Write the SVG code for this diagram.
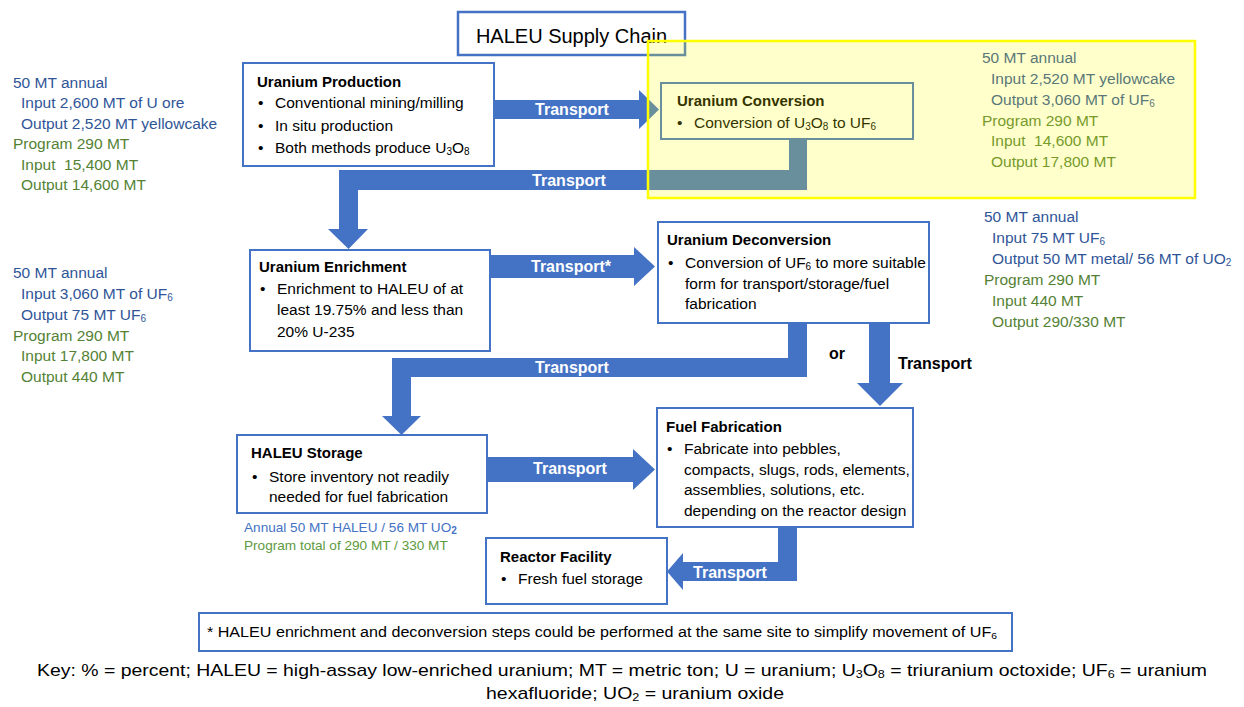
<svg xmlns="http://www.w3.org/2000/svg" width="1244" height="707" viewBox="0 0 1244 707">
<style>
text{font-family:"Liberation Sans",Arial,sans-serif;white-space:pre}
.box{fill:#fff;stroke:#4472C4;stroke-width:2}
.arr{fill:#4472C4;stroke:none}
.h{font-size:15px;font-weight:bold;fill:#000}
.b{font-size:15.5px;fill:#000}
.at{font-size:16px;font-weight:bold;fill:#fff;text-anchor:middle}
.bt{font-size:16px;font-weight:bold;fill:#000}
.sb{font-size:15.5px;fill:#2F5597}
.sg{font-size:15.5px;fill:#548235}
.sub{font-size:10px}
</style>
<rect width="1244" height="707" fill="#fff"/>
<g id="connectors">
<polygon class="arr" points="494,100 639,100 639,90 659,109.5 639,129 639,119 494,119"/>
<polygon class="arr" points="789,139 807,139 807,190 358,190 358,229 368,229 348.5,249 328,229 339,229 339,170 789,170"/>
<polygon class="arr" points="490,255 634,255 634,247 655,266.5 634,286 634,278 490,278"/>
<polygon class="arr" points="788,323 807,323 807,377 411,377 411,416 421,416 401.5,435 382,416 392,416 392,358 788,358"/>
<polygon class="arr" points="869,323 890,323 890,383 903,383 880,406 857,383 869,383"/>
<polygon class="arr" points="487,457 633,457 633,449 655,469.5 633,490 633,482 487,482"/>
<polygon class="arr" points="778,527 797,527 797,581 683,581 683,590 667,571.5 683,553 683,562 778,562"/>
<text class="at" x="572" y="115">Transport</text>
<text class="at" x="569" y="186">Transport</text>
<text class="at" x="571" y="272">Transport*</text>
<text class="at" x="572" y="373">Transport</text>
<text class="at" x="570" y="474">Transport</text>
<text class="at" x="730" y="578">Transport</text>
<text class="bt" x="829" y="359">or</text>
<text class="bt" x="898" y="369">Transport</text>
</g>
<g id="title">
<rect x="458" y="12" width="227" height="43" fill="#fff" stroke="#4472C4" stroke-width="2.5"/>
<text x="571.5" y="43" font-size="20" text-anchor="middle" fill="#000">HALEU Supply Chain</text>
</g>
<g id="uranium-production">
<rect class="box" x="243" y="63" width="251" height="103"/>
<text class="h" x="257" y="87">Uranium Production</text>
<text class="b" x="258" y="108">•</text><text class="b" x="275" y="108">Conventional mining/milling</text>
<text class="b" x="258" y="130.5">•</text><text class="b" x="275" y="130.5">In situ production</text>
<text class="b" x="258" y="153">•</text><text class="b" x="275" y="153">Both methods produce U<tspan class="sub" dy="2">3</tspan><tspan dy="-2">O</tspan><tspan class="sub" dy="2">8</tspan></text>
</g>
<g id="uranium-conversion">
<rect class="box" x="661" y="83" width="252" height="56"/>
<text class="h" x="677" y="106" font-size="14.5">Uranium Conversion</text>
<text class="b" x="677" y="128">•</text><text class="b" x="694" y="128">Conversion of U<tspan class="sub" dy="2">3</tspan><tspan dy="-2">O</tspan><tspan class="sub" dy="2">8</tspan><tspan dy="-2"> to UF</tspan><tspan class="sub" dy="2">6</tspan></text>
</g>
<g id="uranium-enrichment">
<rect class="box" x="250" y="250" width="240" height="101"/>
<text class="h" x="259" y="272">Uranium Enrichment</text>
<text class="b" x="260" y="294">•</text><text class="b" x="277" y="294">Enrichment to HALEU of at</text>
<text class="b" x="277" y="315">least 19.75% and less than</text>
<text class="b" x="277" y="337">20% U-235</text>
</g>
<g id="uranium-deconversion">
<rect class="box" x="658" y="222" width="271" height="101"/>
<text class="h" x="667" y="245">Uranium Deconversion</text>
<text class="b" x="668" y="268">•</text><text class="b" x="685" y="268">Conversion of UF<tspan class="sub" dy="2">6</tspan><tspan dy="-2"> to more suitable</tspan></text>
<text class="b" x="685" y="289">form for transport/storage/fuel</text>
<text class="b" x="685" y="309">fabrication</text>
</g>
<g id="haleu-storage">
<rect class="box" x="237" y="435" width="250" height="78"/>
<text class="h" x="251" y="458">HALEU Storage</text>
<text class="b" x="252" y="482">•</text><text class="b" x="269" y="482">Store inventory not readily</text>
<text class="b" x="269" y="502">needed for fuel fabrication</text>
</g>
<g id="fuel-fabrication">
<rect class="box" x="657" y="408" width="256" height="119"/>
<text class="h" x="666" y="432">Fuel Fabrication</text>
<text class="b" x="667" y="454">•</text><text class="b" x="684" y="454">Fabricate into pebbles,</text>
<text class="b" x="684" y="475">compacts, slugs, rods, elements,</text>
<text class="b" x="684" y="495">assemblies, solutions, etc.</text>
<text class="b" x="684" y="516">depending on the reactor design</text>
</g>
<g id="reactor-facility">
<rect class="box" x="486" y="538" width="181" height="66"/>
<text class="h" x="500" y="562">Reactor Facility</text>
<text class="b" x="501" y="584">•</text><text class="b" x="518" y="584">Fresh fuel storage</text>
</g>
<g id="notes-production">
<text class="sb" x="13" y="88">50 MT annual</text>
<text class="sb" x="21" y="108">Input 2,600 MT of U ore</text>
<text class="sb" x="21" y="129">Output 2,520 MT yellowcake</text>
<text class="sg" x="13" y="149">Program 290 MT</text>
<text class="sg" x="21" y="170">Input  15,400 MT</text>
<text class="sg" x="21" y="190">Output 14,600 MT</text>
</g>
<g id="notes-enrichment">
<text class="sb" x="13" y="278">50 MT annual</text>
<text class="sb" x="21" y="299">Input 3,060 MT of UF<tspan class="sub" dy="2">6</tspan></text>
<text class="sb" x="21" y="320">Output 75 MT UF<tspan class="sub" dy="2">6</tspan></text>
<text class="sg" x="13" y="341">Program 290 MT</text>
<text class="sg" x="21" y="361">Input 17,800 MT</text>
<text class="sg" x="21" y="382">Output 440 MT</text>
</g>
<g id="notes-conversion">
<text class="sb" x="982" y="63">50 MT annual</text>
<text class="sb" x="991" y="84">Input 2,520 MT yellowcake</text>
<text class="sb" x="991" y="105">Output 3,060 MT of UF<tspan class="sub" dy="2">6</tspan></text>
<text class="sg" x="982" y="126">Program 290 MT</text>
<text class="sg" x="991" y="146">Input  14,600 MT</text>
<text class="sg" x="991" y="167">Output 17,800 MT</text>
</g>
<g id="notes-deconversion">
<text class="sb" x="984" y="222">50 MT annual</text>
<text class="sb" x="992" y="243">Input 75 MT UF<tspan class="sub" dy="2">6</tspan></text>
<text class="sb" x="992" y="264">Output 50 MT metal/ 56 MT of UO<tspan class="sub" dy="2">2</tspan></text>
<text class="sg" x="984" y="285">Program 290 MT</text>
<text class="sg" x="992" y="306">Input 440 MT</text>
<text class="sg" x="992" y="327">Output 290/330 MT</text>
</g>
<g id="notes-storage">
<text x="244" y="532" font-size="13.6" fill="#4472C4">Annual 50 MT HALEU / 56 MT UO<tspan font-size="10" font-weight="bold" dy="2">2</tspan></text>
<text x="244" y="550" font-size="13.6" fill="#5E9A3E">Program total of 290 MT / 330 MT</text>
</g>
<g id="footnote">
<rect x="199" y="613" width="813" height="38" fill="#fff" stroke="#4472C4" stroke-width="2"/>
<text x="207" y="637" font-size="14" fill="#000" textLength="790" lengthAdjust="spacingAndGlyphs">* HALEU enrichment and deconversion steps could be performed at the same site to simplify movement of UF<tspan font-size="9" dy="2">6</tspan></text>
</g>
<g id="key">
<text x="37" y="676" font-size="17" fill="#000" textLength="1170" lengthAdjust="spacingAndGlyphs">Key: % = percent; HALEU = high-assay low-enriched uranium; MT = metric ton; U = uranium; U<tspan font-size="11" dy="2">3</tspan><tspan dy="-2">O</tspan><tspan font-size="11" dy="2">8</tspan><tspan dy="-2"> = triuranium octoxide; UF</tspan><tspan font-size="11" dy="2">6</tspan><tspan dy="-2"> = uranium</tspan></text>
<text x="486" y="699" font-size="17" fill="#000" textLength="298" lengthAdjust="spacingAndGlyphs">hexafluoride; UO<tspan font-size="11" dy="2">2</tspan><tspan dy="-2"> = uranium oxide</tspan></text>
</g>
<rect id="conversion-highlight" x="648" y="41" width="547" height="157" fill="#FFFF00" fill-opacity="0.2" stroke="#FFFF00" stroke-width="2.5"/>
</svg>
